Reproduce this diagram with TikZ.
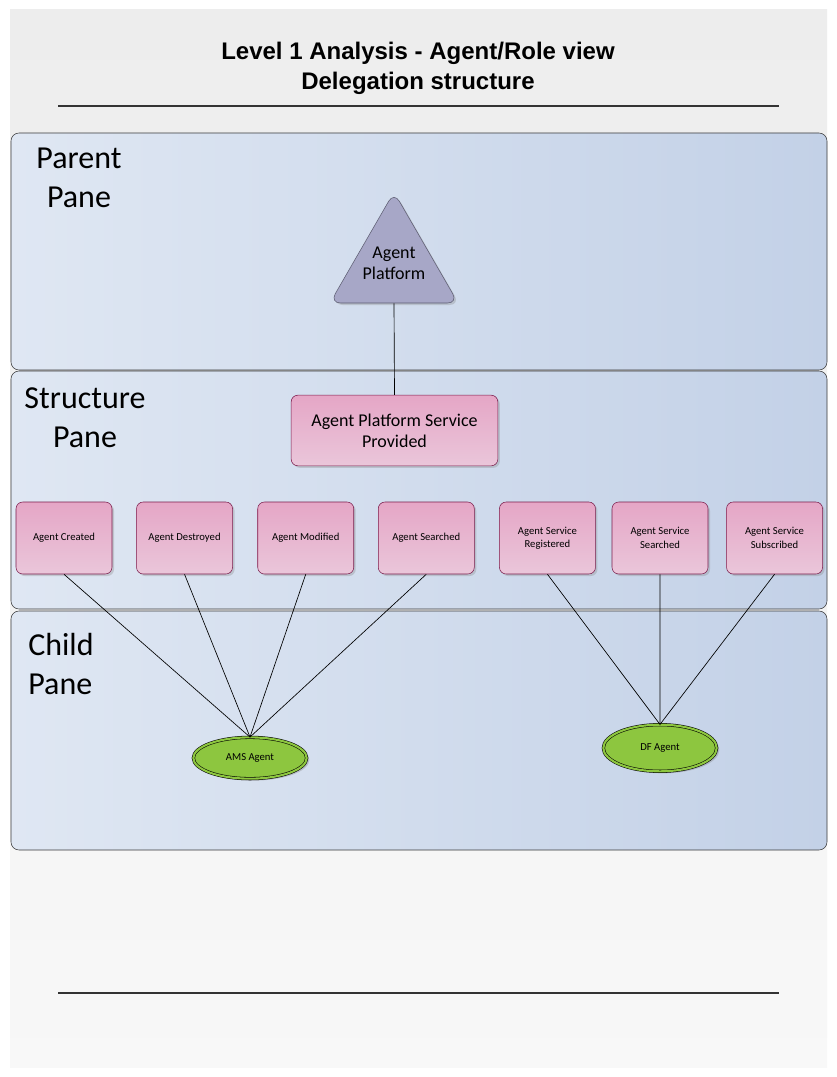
\documentclass[tikz,border=0pt]{standalone}
\usepackage{fontspec}
\setmainfont{Carlito}
\newfontfamily\titlefont{Liberation Sans}
\usetikzlibrary{shapes.geometric,shadows,positioning}

\definecolor{pageGray}{HTML}{EDEDED}
\definecolor{paneLight}{HTML}{DFE7F3}
\definecolor{paneDark}{HTML}{C3D1E7}
\definecolor{paneEdge}{HTML}{3A3A3A}
\definecolor{roseTop}{HTML}{E5A6C6}
\definecolor{roseBot}{HTML}{EAC6DA}
\definecolor{roseEdge}{HTML}{7A1C4B}
\definecolor{lilac}{HTML}{A7A7C7}
\definecolor{lilacEdge}{HTML}{5C5C70}
\definecolor{agentGreen}{HTML}{8DC63F}

\tikzset{
  pane/.style={draw=paneEdge, rounded corners=6pt, left color=paneLight, right color=paneDark},
  panelabel/.style={align=center, font=\fontsize{24}{29}\selectfont},
  evbox/.style={draw=roseEdge, rounded corners=5pt, top color=roseTop, bottom color=roseBot,
    minimum width=72pt, minimum height=54pt, align=center, inner sep=2pt,
    font=\fontsize{8}{10}\selectfont,
    drop shadow={shadow xshift=1.5pt, shadow yshift=-1.5pt, opacity=0.3}},
  agent/.style={ellipse, draw=black, double=agentGreen, double distance=1.6pt, fill=agentGreen,
    minimum width=85pt, minimum height=31pt, font=\fontsize{8}{10}\selectfont,
    drop shadow={shadow xshift=2pt, shadow yshift=-1.5pt, opacity=0.35}},
  platform/.style={regular polygon, regular polygon sides=3, minimum size=111pt, inner sep=0pt,
    draw=lilacEdge, fill=lilac, rounded corners=8pt,
    drop shadow={shadow xshift=1.5pt, shadow yshift=-1.5pt, opacity=0.3}},
  link/.style={draw=black, line width=0.5pt}
}

\begin{document}
\begin{tikzpicture}[x=0.75pt,y=-0.75pt]
\useasboundingbox (0,0) rectangle (837,1077);
\fill [white] (0,0) rectangle (837,1077);
\shade [top color=pageGray, bottom color=pageGray!40] (10,10) rectangle (827,1067);

% title and rules
\node [align=center, font=\titlefont\bfseries\fontsize{18}{22.5}\selectfont] (title) at (418,68)
  {Level 1 Analysis - Agent/Role view\\Delegation structure};
\draw [line width=1pt, black!80] (58,106) -- (779,106);
\draw [line width=1pt, black!80] (58,993) -- (779,993);

% panes
\draw [pane] (11,133) rectangle (827,370);
\draw [pane] (11,371) rectangle (827,609);
\draw [pane] (11,611) rectangle (827,850);
\node [panelabel] (parentlbl) at (79,178) {Parent\\Pane};
\node [panelabel] (structlbl) at (85,418) {Structure\\Pane};
\node [panelabel, align=left] (childlbl) at (61,664) {Child\\Pane};

% platform and service
\node [platform, label={[align=center, font=\fontsize{13.5}{16}\selectfont, yshift=2pt]center:Agent\\Platform}] (ap) at (394,266) {};
\node [evbox, minimum width=155pt, minimum height=53pt, font=\fontsize{13.5}{16}\selectfont] (apsp) at (394.5,430.5)
  {Agent Platform Service\\Provided};
\draw [link] (ap.south) -- (apsp.north);

% events
\node [evbox] (created) at (64,538) {Agent Created};
\node [evbox, right=18pt of created] (destroyed) {Agent Destroyed};
\node [evbox, right=18.5pt of destroyed] (modified) {Agent Modified};
\node [evbox, right=18pt of modified] (searched) {Agent Searched};
\node [evbox, right=18.5pt of searched] (registered) {Agent Service\\Registered};
\node [evbox, right=12pt of registered] (svcsearched) {Agent Service\\Searched};
\node [evbox, right=13.5pt of svcsearched] (subscribed) {Agent Service\\Subscribed};

% agents
\node [agent] (ams) at (250,758) {AMS Agent};
\node [agent, minimum height=35pt] (df) at (660,748) {DF Agent};

\foreach \ev in {created,destroyed,modified,searched}
  \draw [link] (\ev.south) -- (ams.north);
\foreach \ev in {registered,svcsearched,subscribed}
  \draw [link] (\ev.south) -- (df.north);
\end{tikzpicture}
\end{document}
